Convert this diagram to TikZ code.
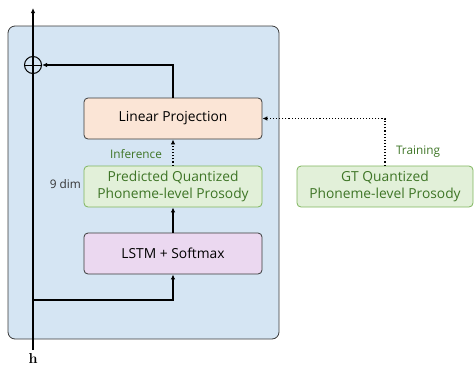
\documentclass[tikz,border=0pt]{standalone}
\usepackage[no-math]{fontspec}
\setmainfont{Open Sans}
\usetikzlibrary{arrows.meta}
\definecolor{bluebg}{HTML}{D5E5F3}
\definecolor{peach}{HTML}{FBE5D6}
\definecolor{greenfill}{HTML}{E2F0D9}
\definecolor{greenline}{HTML}{7FB55E}
\definecolor{greentext}{HTML}{3E7526}
\definecolor{lavender}{HTML}{EBD8F0}
\definecolor{edge}{HTML}{3A3A3A}
\tikzset{
  box/.style={draw=edge, line width=0.8pt, rounded corners=4pt, minimum width=178pt, minimum height=41pt, align=center, inner sep=0pt, font=\fontsize{13.8}{17}\selectfont},
  gbox/.style={box, draw=greenline, fill=greenfill, text=greentext},
  conn/.style={line width=1.1pt, -{Latex[length=5pt,width=4.5pt]}},
  dconn/.style={line width=1.1pt, dotted, -{Latex[length=5pt,width=4.5pt]}},
  lbl/.style={font=\fontsize{11.8}{13}\selectfont, inner sep=0pt},
}
\begin{document}
\begin{tikzpicture}[x=1pt,y=-1pt]
\useasboundingbox (0,0) rectangle (474,365);
\node[draw=edge, line width=0.8pt, fill=bluebg, rounded corners=7pt, minimum width=271pt, minimum height=313pt, inner sep=0pt] (outer) at (143.5,182.5) {};
\node[box, fill=peach] (lin) at (173,118.5) {Linear Projection};
\node[gbox] (pred) at (173,186.5) {Predicted Quantized\\Phoneme-level Prosody};
\node[box, fill=lavender] (lstm) at (173,253.5) {LSTM + Softmax};
\node[gbox, minimum width=176pt] (gt) at (385,186.5) {GT Quantized\\Phoneme-level Prosody};
\node[circle, draw=black, line width=1pt, minimum size=17pt, inner sep=0pt] (plus) at (33,65) {};
\draw[line width=1pt] (plus.north) -- (plus.south) (plus.west) -- (plus.east);
\coordinate (hstart) at (33,350);
\coordinate (htop) at (33,8);
\node[inner sep=0pt, font=\fontsize{14}{14}\selectfont] (hlabel) at (33,358) {$\mathbf{h}$};
\draw[conn] (hstart) -- (htop);
\coordinate (branch) at (33,300);
\draw[conn] (branch) -| (lstm.south);
\draw[conn] (lstm.north) -- (pred.south);
\draw[dconn] (pred.north) -- (lin.south);
\draw[conn] (lin.north) |- (plus.east);
\draw[dconn] (gt.north) |- (lin.east);
\node[lbl, text=greentext] (inf) at (136,154) {Inference};
\node[lbl, text=greentext] (train) at (418,152) {Training};
\node[lbl, text=black!80, anchor=east] (dim) at (81,184) {9 dim};
\end{tikzpicture}
\end{document}
